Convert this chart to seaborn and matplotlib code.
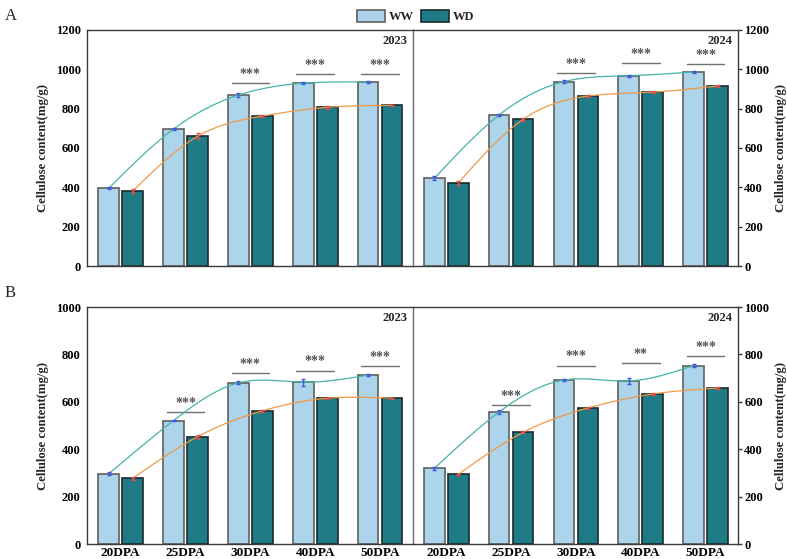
import numpy as np
import pandas as pd
import matplotlib
matplotlib.use("Agg")
import matplotlib.pyplot as plt
import seaborn as sns

# stages and treatments
stages = ["20DPA", "25DPA", "30DPA", "40DPA", "50DPA"]
treats = ["WW", "WD"]

# cellulose content (mg/g)
a23_ww = [396, 696, 868, 928, 934]
a23_wd = [382, 659, 762, 806, 816]
a24_ww = [446, 767, 936, 966, 985]
a24_wd = [423, 745, 863, 883, 914]
b23_ww = [296, 521, 680, 683, 713]
b23_wd = [277, 453, 562, 615, 615]
b24_ww = [319, 557, 692, 688, 753]
b24_wd = [294, 471, 574, 633, 658]

# error bars (estimated)
a23_ww_err = [5, 5, 8, 5, 5]
a23_wd_err = [8, 15, 6, 8, 3]
a24_ww_err = [10, 4, 8, 4, 3]
a24_wd_err = [8, 6, 4, 4, 4]
b23_ww_err = [6, 4, 6, 15, 6]
b23_wd_err = [6, 8, 3, 3, 3]
b24_ww_err = [6, 10, 3, 12, 8]
b24_wd_err = [3, 4, 5, 4, 6]

# significance marks and the height of their lines
a23_sig = ["", "", "***", "***", "***"]
a23_sig_y = [None, None, 929, 975, 975]
a24_sig = ["", "", "***", "***", "***"]
a24_sig_y = [None, None, 978, 1029, 1025]
b23_sig = ["", "***", "***", "***", "***"]
b23_sig_y = [None, 556, 722, 732, 752]
b24_sig = ["", "***", "***", "**", "***"]
b24_sig_y = [None, 587, 753, 763, 793]

sns.set_style("white")
plt.rcParams["font.family"] = ["Liberation Serif", "DejaVu Serif"]
plt.rcParams["font.weight"] = "bold"

bar_colors = {"WW": "#acd4ea", "WD": "#1f7b86"}
edge_colors = {"WW": "#606060", "WD": "#1a2a2c"}
line_colors = {"WW": "#45b3aa", "WD": "#f09a48"}
err_colors = {"WW": "#3a55f0", "WD": "#f04a4a"}
OFF = 0.185


def natural_spline(x, y, n=200):
    x = np.asarray(x, float)
    y = np.asarray(y, float)
    k = len(x)
    h = np.diff(x)
    A = np.zeros((k, k))
    r = np.zeros(k)
    A[0, 0] = A[-1, -1] = 1
    for i in range(1, k - 1):
        A[i, i - 1] = h[i - 1]
        A[i, i] = 2 * (h[i - 1] + h[i])
        A[i, i + 1] = h[i]
        r[i] = 3 * ((y[i + 1] - y[i]) / h[i] - (y[i] - y[i - 1]) / h[i - 1])
    c = np.linalg.solve(A, r)
    xs = np.linspace(x[0], x[-1], n)
    ys = np.empty_like(xs)
    for j, xv in enumerate(xs):
        i = min(np.searchsorted(x, xv, side="right") - 1, k - 2)
        b = (y[i + 1] - y[i]) / h[i] - h[i] * (2 * c[i] + c[i + 1]) / 3
        d = (c[i + 1] - c[i]) / (3 * h[i])
        t = xv - x[i]
        ys[j] = y[i] + b * t + c[i] * t ** 2 + d * t ** 3
    return xs, ys


def draw_panel(ax, ww, wd, ww_err, wd_err, sig, sig_y, year, ymax, star_off):
    df = pd.DataFrame({
        "stage": stages * 2,
        "treat": ["WW"] * 5 + ["WD"] * 5,
        "value": list(ww) + list(wd),
    })
    sns.barplot(df, x="stage", y="value", hue="treat", hue_order=treats,
                palette=bar_colors, saturation=1, width=0.74, gap=0.14,
                errorbar=None, linewidth=1.2, ax=ax, legend=True)
    for cont, t in zip(ax.containers, treats):
        for p in cont:
            p.set_edgecolor(edge_colors[t])
    xpos = np.arange(len(stages))
    for t, vals, err, sgn in [("WW", ww, ww_err, -1), ("WD", wd, wd_err, 1)]:
        xx = xpos + sgn * OFF
        xs, ys = natural_spline(xx, vals)
        ax.plot(xs, ys, color=line_colors[t], lw=0.9, zorder=4)
        ax.errorbar(xx, vals, yerr=err, fmt="none", ecolor=err_colors[t],
                    elinewidth=1.0, capsize=1.5, capthick=1.0, zorder=5)
    for i, (s, yy) in enumerate(zip(sig, sig_y)):
        if s:
            ax.plot([i - 0.29, i + 0.29], [yy, yy], color="#707070", lw=1.0)
            ax.text(i, yy + star_off, s, ha="center", va="center",
                    color="#555555", fontsize=10, fontweight="bold")
    ax.text(0.984, 0.977, year, transform=ax.transAxes, ha="right", va="top",
            fontsize=9, fontweight="bold")
    ax.set_xlim(-0.52, 4.5)
    ax.set_ylim(0, ymax)
    ax.set_xlabel("")
    ax.set_ylabel("")


fig = plt.figure(figsize=(7.87, 5.59), dpi=100)
L, M, R = 0.1105, 0.5242, 0.9377
panels = [
    (0.5233, 0.9472 - 0.5233, 1200,
     [(a23_ww, a23_wd, a23_ww_err, a23_wd_err, a23_sig, a23_sig_y, "2023"),
      (a24_ww, a24_wd, a24_ww_err, a24_wd_err, a24_sig, a24_sig_y, "2024")], "A"),
    (0.0268, 0.4508 - 0.0268, 1000,
     [(b23_ww, b23_wd, b23_ww_err, b23_wd_err, b23_sig, b23_sig_y, "2023"),
      (b24_ww, b24_wd, b24_ww_err, b24_wd_err, b24_sig, b24_sig_y, "2024")], "B"),
]

handles = None
for row, (bot, hgt, ymax, sets, letter) in enumerate(panels):
    ax_l = fig.add_axes([L, bot, M - L, hgt])
    ax_r = fig.add_axes([M, bot, R - M, hgt])
    star_off = ymax * 0.037
    for ax, s in zip([ax_l, ax_r], sets):
        draw_panel(ax, *s, ymax=ymax, star_off=star_off)
        if handles is None:
            handles, labels = ax.get_legend_handles_labels()
        ax.get_legend().remove()
        ax.set_yticks(np.arange(0, ymax + 1, 200))
        for sp in ax.spines.values():
            sp.set_color("#3a3a3a")
            sp.set_linewidth(1.0)
        ax.tick_params(axis="x", direction="in", length=3, width=1, pad=2,
                       colors="#3a3a3a", labelcolor="black", labelsize=9.5)
        ax.tick_params(axis="y", direction="out", length=3, width=1, pad=1.5,
                       colors="#3a3a3a", labelcolor="black", labelsize=9)
    ax_l.spines["right"].set_visible(False)
    ax_r.spines["left"].set_color("#6a6a6a")
    ax_r.yaxis.tick_right()
    ax_r.yaxis.set_label_position("right")
    ax_l.set_ylabel("Cellulose content(mg/g)", fontsize=9.2,
                    fontweight="bold", labelpad=5)
    ax_r.set_ylabel("Cellulose content(mg/g)", fontsize=9.2,
                    fontweight="bold", rotation=90, labelpad=4)
    if row == 0:
        ax_l.set_xticklabels([])
        ax_r.set_xticklabels([])
    fig.text(0.006, bot + hgt + 0.025, letter, fontsize=12, fontweight="normal",
             ha="left", va="center")

for h, t in zip(handles, treats):
    h.set_edgecolor(edge_colors[t])
    h.set_linewidth(1.2)
fig.legend(handles, labels, loc="upper center", bbox_to_anchor=(0.528, 1.002),
           ncol=2, frameon=False, handlelength=2.25, handleheight=1.05,
           columnspacing=0.55, handletextpad=0.3,
           prop={"weight": "bold", "size": 9})

fig.savefig("out.png", dpi=100)
